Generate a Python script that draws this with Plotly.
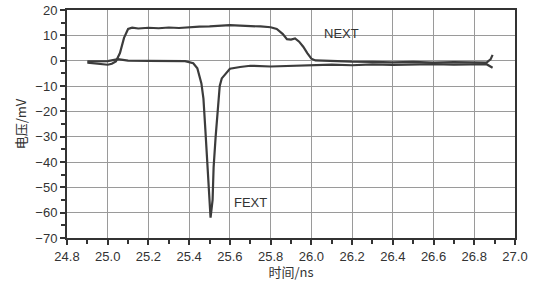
import plotly.graph_objects as go

# NEXT series (time ns, voltage mV)
next_t = [24.90, 24.95, 25.00, 25.02, 25.04, 25.06, 25.08, 25.10, 25.12, 25.15, 25.20, 25.25,
          25.30, 25.35, 25.40, 25.45, 25.50, 25.55, 25.60, 25.65, 25.70, 25.75, 25.80, 25.83,
          25.86, 25.88, 25.90, 25.92, 25.94, 25.96, 25.98, 26.00, 26.02, 26.05, 26.10, 26.20,
          26.30, 26.40, 26.50, 26.60, 26.70, 26.80, 26.86, 26.88, 26.89]
next_v = [-0.8, -1.3, -1.6, -1.2, -0.3, 3.0, 9.0, 12.5, 13.0, 12.7, 13.0, 12.8,
          13.1, 12.9, 13.2, 13.4, 13.5, 13.8, 14.0, 13.8, 13.7, 13.5, 13.2, 12.5,
          10.5, 8.5, 8.3, 8.8, 7.5, 5.5, 3.0, 0.8, 0.1, 0.0, -0.2, -0.4,
          -0.5, -0.7, -0.5, -0.8, -0.6, -0.7, -0.8, 0.5, 2.3]

# FEXT series
fext_t = [24.90, 25.00, 25.05, 25.10, 25.20, 25.30, 25.38, 25.42, 25.44, 25.46, 25.47, 25.48,
          25.49, 25.50, 25.505, 25.515, 25.52, 25.53, 25.54, 25.55, 25.56, 25.58, 25.60, 25.65,
          25.70, 25.80, 25.90, 26.00, 26.10, 26.20, 26.30, 26.40, 26.50, 26.60, 26.70, 26.80,
          26.86, 26.89]
fext_v = [-0.3, -0.2, 0.6, 0.0, -0.1, 0.0, -0.2, -1.0, -3.0, -9.0, -15.0, -28.0,
          -42.0, -56.0, -62.0, -55.0, -42.0, -30.0, -20.0, -10.0, -7.0, -5.0, -3.2, -2.5,
          -2.0, -2.3, -2.0, -1.8, -1.6, -1.8, -1.5, -1.7, -1.5, -1.4, -1.6, -1.5,
          -1.4, -2.8]

x_ticks = [24.8, 25.0, 25.2, 25.4, 25.6, 25.8, 26.0, 26.2, 26.4, 26.6, 26.8, 27.0]
y_ticks = [20, 10, 0, -10, -20, -30, -40, -50, -60, -70]

line_color = "#3c3c3c"
fig = go.Figure()
fig.add_trace(go.Scatter(x=next_t, y=next_v, mode="lines", line=dict(color=line_color, width=2.2), name="NEXT"))
fig.add_trace(go.Scatter(x=fext_t, y=fext_v, mode="lines", line=dict(color=line_color, width=2.2), name="FEXT"))

fig.add_annotation(x=26.05, y=10.8, xref="x", yref="y", text="NEXT", showarrow=False,
                   xanchor="left", font=dict(family="Liberation Sans, Arial", size=13, color="#333"))
fig.add_annotation(x=25.61, y=-55.8, xref="x", yref="y", text="FEXT", showarrow=False,
                   xanchor="left", font=dict(family="Liberation Sans, Arial", size=13, color="#333"))

fig.update_layout(
    width=539, height=281,
    margin=dict(l=67, r=24, t=10, b=43, autoexpand=False),
    paper_bgcolor="white", plot_bgcolor="white",
    showlegend=False,
    font=dict(family="Liberation Sans, Arial", size=13, color="#333"),
)
fig.update_xaxes(
    range=[24.8, 27.0], tickmode="array", tickvals=x_ticks, ticktext=[f"{v:.1f}" for v in x_ticks],
    showgrid=True, gridcolor="#9a9a9a", gridwidth=1.2,
    showline=True, linecolor="#333333", linewidth=2, mirror=True,
    ticks="outside", ticklen=5, tickwidth=2, tickcolor="#333333",
    minor=dict(dtick=0.1, tick0=24.8, ticks="outside", ticklen=4, tickcolor="#333333", tickwidth=1.5),
    title=dict(text="时间/ns", font=dict(family="Noto Sans CJK SC", size=13), standoff=6),
    automargin=False,
    zeroline=False,
)
fig.update_yaxes(
    range=[-70, 20], tickmode="array", tickvals=y_ticks, ticktext=[str(v).replace("-", "\u2212") for v in y_ticks],
    showgrid=True, gridcolor="#9a9a9a", gridwidth=1.2,
    showline=True, linecolor="#333333", linewidth=2, mirror=True,
    ticks="outside", ticklen=5, tickwidth=2, tickcolor="#333333",
    minor=dict(dtick=5, tick0=0, ticks="outside", ticklen=4, tickcolor="#333333", tickwidth=1.5),
    title=dict(text="电压/mV", font=dict(family="Noto Sans CJK SC", size=13), standoff=6),
    automargin=False,
    zeroline=False,
)

fig.write_html("out.html")
